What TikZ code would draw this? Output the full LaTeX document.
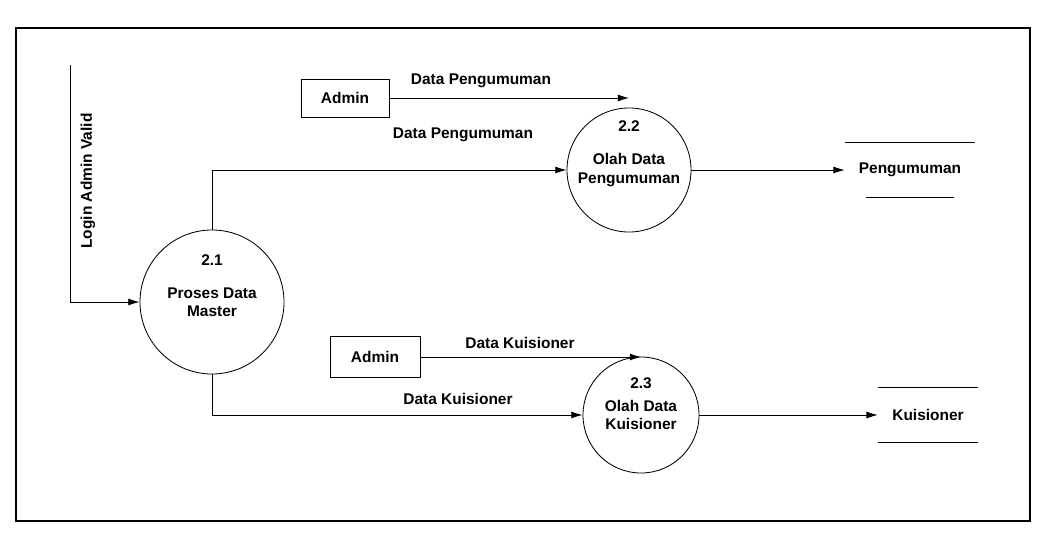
\documentclass[tikz,border=0pt]{standalone}
\usepackage{fontspec}
\setmainfont{Liberation Sans}
\usetikzlibrary{arrows.meta,positioning}

\begin{document}
\begin{tikzpicture}[
  x=0.025cm, y=-0.025cm,
  >={Latex[length=8pt,width=5pt]},
  proc/.style={draw, circle, line width=0.6pt, align=center, font=\bfseries\fontsize{11}{13}\selectfont, inner sep=0pt},
  num/.style={font=\bfseries\fontsize{11}{13}\selectfont, inner sep=1pt},
  ent/.style={draw, line width=0.6pt, minimum width=2.2cm, minimum height=0.95cm, font=\bfseries\fontsize{11}{13}\selectfont},
  store/.style={minimum height=1.35cm, font=\bfseries\fontsize{11}{13}\selectfont, inner sep=0pt},
  lbl/.style={font=\bfseries\fontsize{11}{13}\selectfont, inner sep=1pt},
  flow/.style={->, line width=0.6pt},
  edge/.style={line width=0.6pt},
]
\useasboundingbox (0,0) rectangle (1038,538);
\draw[line width=1.8pt] (16,28) rectangle (1030,521);

\node[proc, minimum size=3.6cm] (p21) at (212,302) {Proses Data\\Master};
\node[num] (n21) at ([shift={(0,-42)}]p21.center) {2.1};
\node[proc, minimum size=3.1cm] (p22) at (629,170) {Olah Data\\Pengumuman};
\node[num] (n22) at ([shift={(0,-44)}]p22.center) {2.2};
\node[proc, minimum size=2.9cm] (p23) at (641,415) {Olah Data\\Kuisioner};
\node[num] (n23) at ([shift={(0,-32)}]p23.center) {2.3};

\node[ent] (adm1) at (345,98) {Admin};
\node[ent, minimum width=2.25cm, minimum height=1.02cm] (adm2) at (375,357) {Admin};

\node[store, minimum width=3.25cm] (st1) at (910,170) {Pengumuman};
\node[store, minimum width=2.5cm] (st2) at (928,415) {Kuisioner};

\coordinate (login) at (70,65);
\node[lbl, rotate=90] (llogin) at (88,181) {Login Admin Valid};
\node[lbl] (l1) at (481,81) {Data Pengumuman};
\node[lbl] (l2) at (463,135) {Data Pengumuman};
\node[lbl] (l3) at (520,343) {Data Kuisioner};
\node[lbl] (l4) at (458,399) {Data Kuisioner};

\draw[flow] (login) |- (p21.west);
\draw[flow] (p21.north) |- (p22.west);
\draw[flow] (adm1.east) -- (adm1.east -| p22.north);
\draw[flow] (p21.south) |- (p23.west);
\draw[flow] (adm2.east) -- (adm2.east -| p23.north);
\draw[flow] (p22.east) -- (st1.west);
\draw[flow] (p23.east) -- (st2.west);

\draw[edge] (st1.north west) -- (st1.north east);
\draw[edge] ([xshift=15]st1.south west) -- ([xshift=-15]st1.south east);
\draw[edge] (st2.north west) -- (st2.north east);
\draw[edge] (st2.south west) -- (st2.south east);

\end{tikzpicture}
\end{document}
